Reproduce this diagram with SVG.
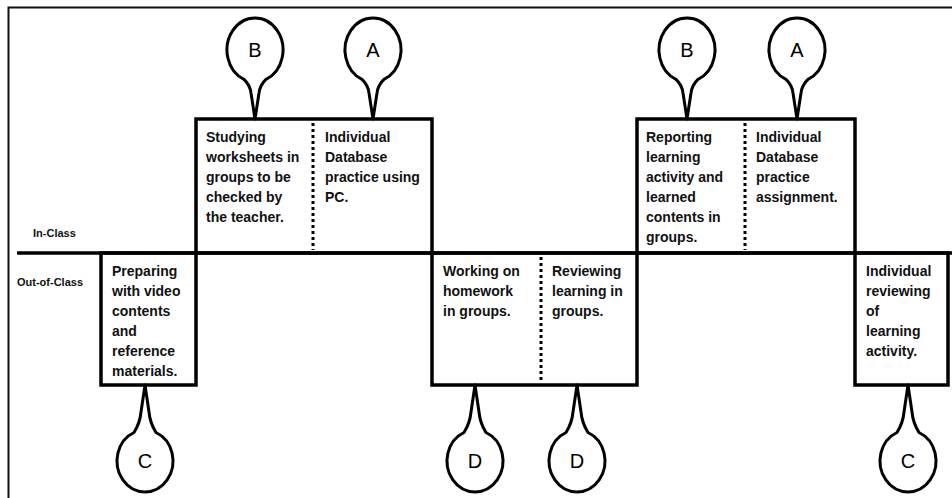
<svg xmlns="http://www.w3.org/2000/svg" width="952" height="498" viewBox="0 0 952 498">
  <style>
    .frame { fill: none; stroke: #111; stroke-width: 2; }
    .box { fill: #fff; stroke: #000; stroke-width: 3.5; }
    .axis { fill: none; stroke: #000; stroke-width: 3.5; }
    .divider { stroke: #000; stroke-width: 3; stroke-dasharray: 3 3; }
    .balloon { fill: #fff; stroke: #000; stroke-width: 3; stroke-linejoin: round; }
    .txt { font-family: "Liberation Sans", Arial, sans-serif; font-weight: bold; font-size: 14px; fill: #111; }
    .lane { font-family: "Liberation Sans", Arial, sans-serif; font-weight: bold; font-size: 11px; fill: #111; }
    .tag { font-family: "Liberation Sans", Arial, sans-serif; font-size: 20px; fill: #000; text-anchor: middle; }
  </style>
  <defs>
    <!-- balloon hanging above a box, tip at (0,119) -->
    <path id="balloonUp" d="M0,119 L-4,93 Q-5,85 -11,79.4 A28,32 0 1 1 11,79.4 Q5,85 4,93 Z"/>
    <!-- balloon hanging below a box, tip at (0,385) -->
    <path id="balloonDown" d="M0,385 L-4,412 Q-5,423 -11,432.5 A28,31 0 1 0 11,432.5 Q5,423 4,412 Z"/>
  </defs>

  <rect width="952" height="498" fill="#fff"/>

  <!-- outer frame (top and left edges) -->
  <path class="frame" d="M8.5,498 V7.5 H952"/>

  <!-- lane labels -->
  <text class="lane" x="33" y="237">In-Class</text>
  <text class="lane" x="17" y="286">Out-of-Class</text>

  <!-- boxes -->
  <g id="out-prepare">
    <rect class="box" x="101" y="253" width="95" height="132"/>
    <text class="txt" x="112" y="276">
      <tspan x="112">Preparing</tspan>
      <tspan x="112" dy="20">with video</tspan>
      <tspan x="112" dy="20">contents</tspan>
      <tspan x="112" dy="20">and</tspan>
      <tspan x="112" dy="20">reference</tspan>
      <tspan x="112" dy="20">materials.</tspan>
    </text>
  </g>

  <g id="in-session-1">
    <rect class="box" x="196" y="119" width="236" height="134"/>
    <line class="divider" x1="313" y1="123" x2="313" y2="250"/>
    <text class="txt" x="206" y="142">
      <tspan x="206">Studying</tspan>
      <tspan x="206" dy="20">worksheets in</tspan>
      <tspan x="206" dy="20">groups to be</tspan>
      <tspan x="206" dy="20">checked by</tspan>
      <tspan x="206" dy="20">the teacher.</tspan>
    </text>
    <text class="txt" x="325" y="142">
      <tspan x="325">Individual</tspan>
      <tspan x="325" dy="20">Database</tspan>
      <tspan x="325" dy="20">practice using</tspan>
      <tspan x="325" dy="20">PC.</tspan>
    </text>
  </g>

  <g id="out-homework">
    <rect class="box" x="432" y="253" width="205" height="132"/>
    <line class="divider" x1="541" y1="257" x2="541" y2="383"/>
    <text class="txt" x="443" y="276">
      <tspan x="443">Working on</tspan>
      <tspan x="443" dy="20">homework</tspan>
      <tspan x="443" dy="20">in groups.</tspan>
    </text>
    <text class="txt" x="552" y="276">
      <tspan x="552">Reviewing</tspan>
      <tspan x="552" dy="20">learning in</tspan>
      <tspan x="552" dy="20">groups.</tspan>
    </text>
  </g>

  <g id="in-session-2">
    <rect class="box" x="637" y="119" width="218" height="134"/>
    <line class="divider" x1="745" y1="123" x2="745" y2="250"/>
    <text class="txt" x="646" y="142">
      <tspan x="646">Reporting</tspan>
      <tspan x="646" dy="20">learning</tspan>
      <tspan x="646" dy="20">activity and</tspan>
      <tspan x="646" dy="20">learned</tspan>
      <tspan x="646" dy="20">contents in</tspan>
      <tspan x="646" dy="20">groups.</tspan>
    </text>
    <text class="txt" x="756" y="142">
      <tspan x="756">Individual</tspan>
      <tspan x="756" dy="20">Database</tspan>
      <tspan x="756" dy="20">practice</tspan>
      <tspan x="756" dy="20">assignment.</tspan>
    </text>
  </g>

  <g id="out-review">
    <rect class="box" x="855" y="253" width="93" height="132"/>
    <text class="txt" x="866" y="276">
      <tspan x="866">Individual</tspan>
      <tspan x="866" dy="20">reviewing</tspan>
      <tspan x="866" dy="20">of</tspan>
      <tspan x="866" dy="20">learning</tspan>
      <tspan x="866" dy="20">activity.</tspan>
    </text>
  </g>

  <!-- in-class / out-of-class boundary -->
  <g id="connectors">
    <line class="axis" x1="17" y1="253" x2="952" y2="253"/>
  </g>

  <!-- callout balloons -->
  <g id="tag-b1" transform="translate(255,0)">
    <use href="#balloonUp" class="balloon"/>
    <text class="tag" x="0" y="57">B</text>
  </g>
  <g id="tag-a1" transform="translate(373,0)">
    <use href="#balloonUp" class="balloon"/>
    <text class="tag" x="0" y="57">A</text>
  </g>
  <g id="tag-b2" transform="translate(687,0)">
    <use href="#balloonUp" class="balloon"/>
    <text class="tag" x="0" y="57">B</text>
  </g>
  <g id="tag-a2" transform="translate(797,0)">
    <use href="#balloonUp" class="balloon"/>
    <text class="tag" x="0" y="57">A</text>
  </g>
  <g id="tag-c1" transform="translate(145,0)">
    <use href="#balloonDown" class="balloon"/>
    <text class="tag" x="0" y="468">C</text>
  </g>
  <g id="tag-d1" transform="translate(475,0)">
    <use href="#balloonDown" class="balloon"/>
    <text class="tag" x="0" y="468">D</text>
  </g>
  <g id="tag-d2" transform="translate(577,0)">
    <use href="#balloonDown" class="balloon"/>
    <text class="tag" x="0" y="468">D</text>
  </g>
  <g id="tag-c2" transform="translate(908,0)">
    <use href="#balloonDown" class="balloon"/>
    <text class="tag" x="0" y="468">C</text>
  </g>
</svg>
